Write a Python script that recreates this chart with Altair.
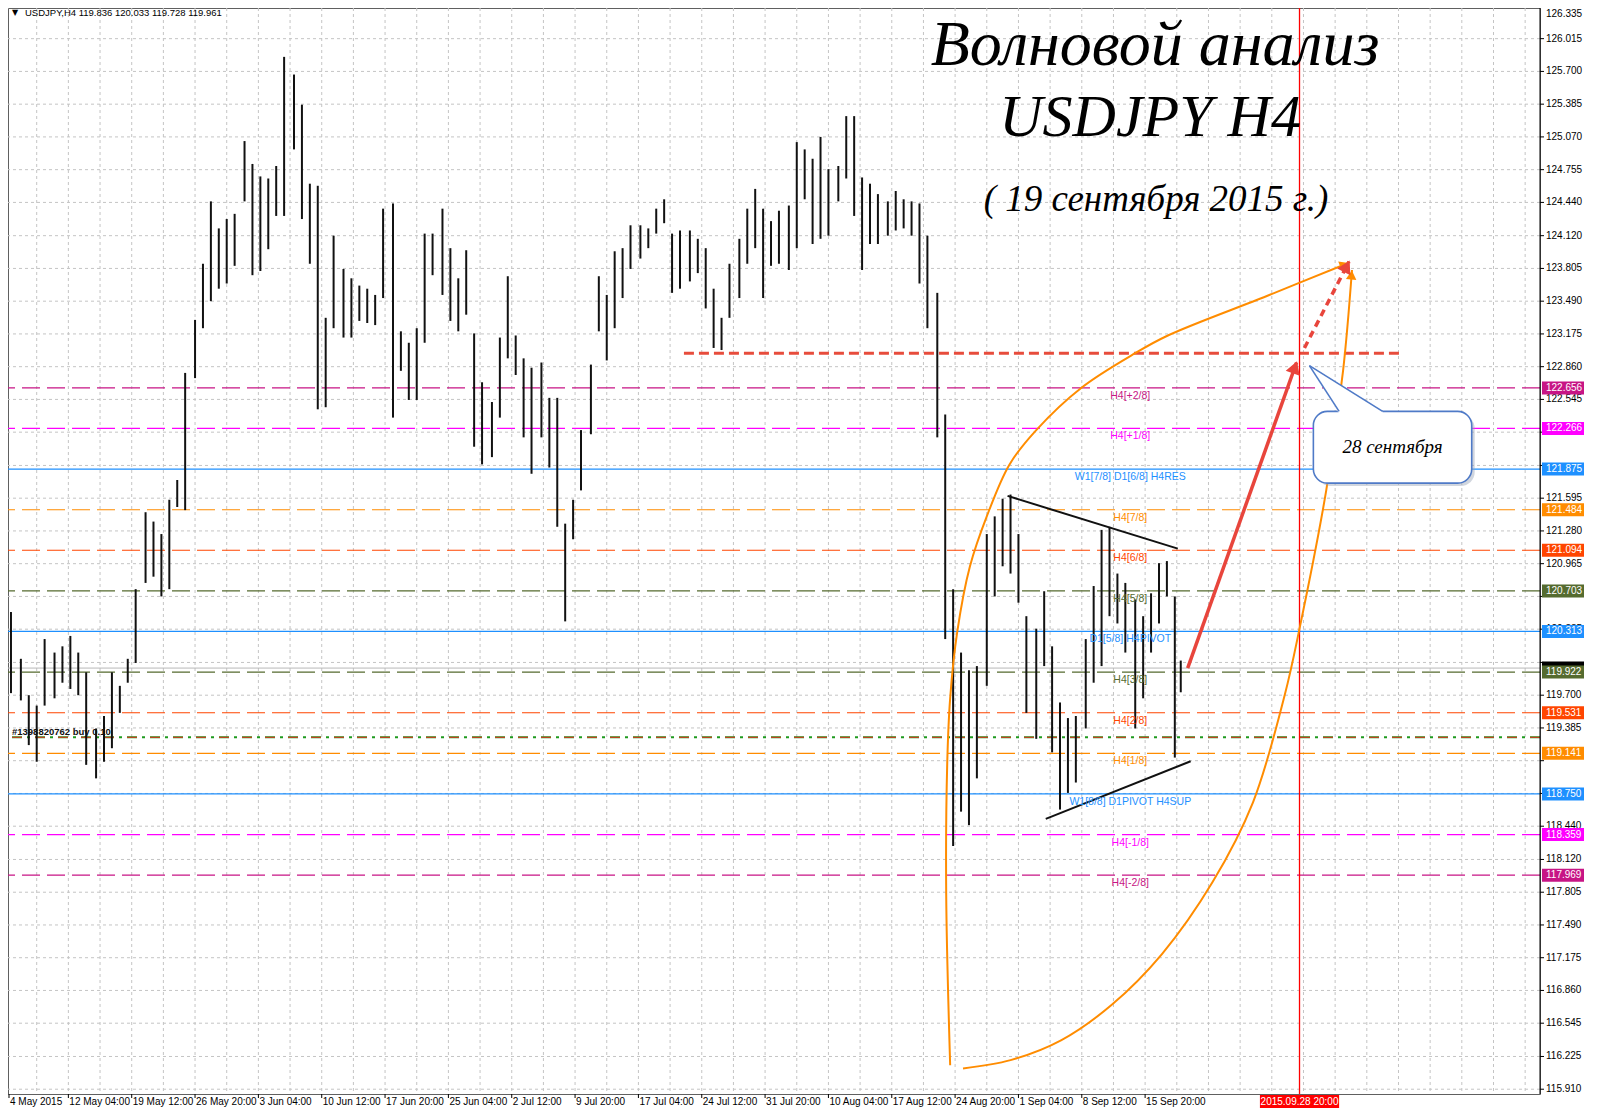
import math
import altair as alt
import pandas as pd

# ---------------- data ----------------
bar_idx = [3, 8, 12, 16, 20, 25, 29, 33, 37, 41, 46, 50, 54, 58, 62, 66, 71, 75, 79, 83,
           87, 91, 96, 100, 104, 108, 112, 116, 121, 125, 129, 133, 137, 141, 146, 150, 154, 158, 162, 166,
           171, 175, 179, 183, 187, 191, 196, 200, 204, 208, 212, 216, 221, 225, 229, 233, 237, 241, 246, 250,
           254, 258, 262, 266, 271, 275, 279, 283, 287, 291, 296, 300, 304, 308, 312, 316, 321, 325, 329, 333,
           337, 341, 346, 350, 354, 358, 362, 366, 371, 375, 379, 383, 387, 391, 396, 400, 404, 408, 412, 416,
           421, 425, 429, 433, 437, 441, 446, 450, 454, 458, 462, 466, 471, 475, 479, 483, 487, 491, 496, 500,
           504, 508, 512, 516, 521, 525, 529, 533, 537, 541, 546, 550, 554, 558, 562, 566, 571, 575, 579, 583,
           587, 591, 594]
bar_high = [120.50, 120.05, 119.70, 119.60, 120.24, 120.11, 120.17, 120.27, 120.11, 119.92, 119.38, 119.50, 119.92, 119.79, 120.05, 120.72, 121.46, 121.37, 121.25, 121.58,
            121.77, 122.80, 123.31, 123.85, 124.45, 124.19, 124.28, 124.33, 125.03, 124.81, 124.69, 124.67, 124.79, 125.84, 125.67, 125.38, 124.62, 124.60, 123.33, 124.12,
            123.80, 123.71, 123.64, 123.61, 123.55, 124.38, 124.43, 123.20, 123.09, 123.23, 124.14, 124.14, 124.38, 124.00, 123.71, 123.98, 123.18, 122.71, 122.52, 123.14,
            123.73, 123.16, 122.94, 122.85, 122.90, 122.56, 122.56, 121.35, 121.58, 122.25, 122.88, 123.73, 123.55, 123.97, 124.00, 124.22, 124.22, 124.19, 124.38, 124.47,
            124.14, 124.17, 124.17, 124.09, 124.00, 123.61, 123.33, 123.85, 124.09, 124.38, 124.57, 124.38, 124.26, 124.36, 124.41, 125.02, 124.95, 124.86, 125.07, 124.76,
            124.79, 125.27, 125.27, 124.68, 124.62, 124.52, 124.45, 124.55, 124.47, 124.45, 124.43, 124.12, 123.57, 122.40, 120.72, 120.11, 119.94, 119.98, 121.25, 121.42,
            121.59, 121.63, 121.25, 120.46, 120.34, 120.70, 120.17, 119.63, 119.48, 119.50, 120.24, 120.75, 121.29, 121.32, 120.87, 120.78, 120.62, 120.46, 120.68, 120.97,
            120.99, 120.65, 120.033]
bar_low = [119.72, 119.65, 119.22, 119.06, 119.60, 119.67, 119.82, 119.76, 119.70, 119.03, 118.90, 119.06, 119.19, 119.53, 119.82, 120.01, 120.78, 120.84, 120.65, 120.72,
           121.51, 121.48, 122.75, 123.23, 123.49, 123.61, 123.66, 123.83, 124.45, 123.74, 123.78, 123.99, 124.31, 124.31, 124.95, 124.28, 123.85, 122.45, 122.47, 123.23,
           123.14, 123.14, 123.30, 123.28, 123.26, 123.52, 122.37, 122.82, 122.54, 122.54, 123.09, 123.74, 123.55, 123.30, 123.20, 123.36, 122.09, 121.92, 121.99, 122.37,
           122.94, 122.78, 122.18, 121.83, 122.18, 121.89, 121.32, 120.41, 121.20, 121.67, 122.21, 123.20, 122.92, 123.23, 123.52, 123.80, 123.90, 124.00, 124.14, 124.24,
           123.57, 123.61, 123.68, 123.76, 123.42, 123.04, 123.02, 123.33, 123.52, 123.85, 124.00, 123.52, 123.83, 123.85, 123.79, 124.00, 124.47, 124.04, 124.09, 124.12,
           124.45, 124.67, 124.31, 123.79, 124.04, 124.04, 124.12, 124.17, 124.19, 124.12, 123.66, 123.23, 122.18, 120.24, 118.25, 118.58, 118.45, 118.90, 119.79, 120.65,
           120.94, 120.87, 120.59, 119.53, 119.28, 119.98, 119.15, 118.60, 118.76, 118.86, 119.38, 119.82, 119.98, 120.46, 120.39, 120.11, 119.38, 119.67, 120.11, 120.39,
           120.65, 119.10, 119.728]

# axis labels that are not covered by the coloured price boxes
top_tick = 126.335
tick_prices = [126.015, 125.700, 125.385, 125.070, 124.755, 124.440, 124.120, 123.805, 123.490,
               123.175, 122.860, 122.545, 121.595, 121.280, 120.965, 120.335,
               119.700, 119.385, 118.440, 118.120, 117.805, 117.490, 117.175,
               116.860, 116.545, 116.225, 115.910]
# grid rows (every axis step, including the covered ones)
grid_prices = [126.015, 125.700, 125.385, 125.070, 124.755, 124.440, 124.120, 123.805, 123.490,
               123.175, 122.860, 122.545, 122.230, 121.910, 121.595, 121.280, 120.965, 120.650, 120.335,
               120.015, 119.700, 119.385, 119.070, 118.755, 118.440, 118.120, 117.805, 117.490, 117.175,
               116.860, 116.545, 116.225, 115.910]

date_labels = ["4 May 2015", "12 May 04:00", "19 May 12:00", "26 May 20:00", "3 Jun 04:00", "10 Jun 12:00",
               "17 Jun 20:00", "25 Jun 04:00", "2 Jul 12:00", "9 Jul 20:00", "17 Jul 04:00", "24 Jul 12:00",
               "31 Jul 20:00", "10 Aug 04:00", "17 Aug 12:00", "24 Aug 20:00", "1 Sep 04:00", "8 Sep 12:00",
               "15 Sep 20:00"]
date_idx = [2, 32, 64, 96, 128, 160, 192, 224, 256, 288, 320, 352, 384, 416, 448, 480, 512, 544, 576]
grid_idx = [16 * k for k in range(1, 49)]

mm_price = [122.656, 122.266, 121.875, 121.484, 121.094, 120.703, 120.313, 119.922, 119.531, 119.141, 118.750, 118.359, 117.969]
mm_label = ["H4[+2/8]", "H4[+1/8]", "W1[7/8] D1[6/8] H4RES", "H4[7/8]", "H4[6/8]", "H4[5/8]", "D1[5/8] H4PIVOT",
            "H4[3/8]", "H4[2/8]", "H4[1/8]", "W1[8/8] D1PIVOT H4SUP", "H4[-1/8]", "H4[-2/8]"]
mm_color = ["#c71585", "#ff00ff", "#1e90ff", "#ff8c00", "#ff4500", "#556b2f", "#1e90ff", "#556b2f",
            "#ff4500", "#ff8c00", "#1e90ff", "#ff00ff", "#c71585"]
mm_style = ["dash", "dash", "solid", "dash", "dash", "dash", "solid", "dash", "dash", "dash", "solid", "dash", "dash"]
mm_label_idx = 568.5

bid_price = 119.961
order_price = 119.295
order_text = "#1398820762 buy 0.10"
target_price = 122.99
target_from, target_to = 343, 706
future_idx = 654
future_label = "2015.09.28 20:00"

tri_upper = [(506.5, 121.617), (592.5, 121.11)]
tri_lower = [(525.8, 118.511), (599.0, 119.065)]

curve1_i = [477.5, 475.5, 476, 477.5, 481, 487.5, 496, 507.5, 521, 544, 571, 587.5, 637.5, 679]
curve1_p = [116.14, 117.785, 119.03, 119.67, 120.30, 120.94, 121.42, 121.92, 122.25, 122.66, 122.99, 123.16, 123.54, 123.86]
curve2_i = [484, 508, 533.5, 559, 584.5, 610, 630.5, 646.5, 654, 667.5, 676, 680.5]
curve2_p = [116.11, 116.19, 116.38, 116.72, 117.21, 117.90, 118.67, 119.70, 120.34, 121.67, 122.82, 123.79]

arrow_solid = [(597.5, 119.96), (652.5, 122.90)]
arrow_dashed = [(656.5, 123.04), (679.0, 123.87)]

callout_box = (661, 741, 121.74, 122.43)
callout_tail = [(659, 122.87), (674, 122.43), (696, 122.43)]
callout_text = "28 сентября"

title1 = "Волновой анализ"
title2 = "USDJPY H4"
title3 = "( 19 сентября 2015 г.)"
header = "USDJPY,H4  119.836 120.033 119.728 119.961"

# ---------------- layout ----------------
W, H = 1532, 1086
XD = [1.5, 775.5]
YD = [115.864, 126.310]
sx = W / (XD[1] - XD[0])
sy = H / (YD[1] - YD[0])
FONT = "Liberation Sans"

XS = alt.Scale(domain=XD, nice=False, zero=False)
YS = alt.Scale(domain=YD, nice=False, zero=False)


def X(f):
    return alt.X(f, type="quantitative", scale=XS, axis=None)


def Y(f):
    return alt.Y(f, type="quantitative", scale=YS, axis=None)


layers = []

# grid
layers.append(alt.Chart(pd.DataFrame({"p": grid_prices})).mark_rule(
    color="#c4c4c4", strokeDash=[3, 3], strokeWidth=1).encode(y=Y("p")))
layers.append(alt.Chart(pd.DataFrame({"i": grid_idx})).mark_rule(
    color="#c4c4c4", strokeDash=[3, 3], strokeWidth=1).encode(x=X("i")))

# Murrey lines
mm = pd.DataFrame({"p": mm_price, "t": mm_label, "c": mm_color, "d": mm_style,
                   "li": [mm_label_idx] * len(mm_price)})
layers.append(alt.Chart(mm).mark_rule(strokeWidth=1.2).encode(
    y=Y("p"), color=alt.Color("c:N", scale=None),
    strokeDash=alt.StrokeDash("d:N", scale=alt.Scale(domain=["dash", "solid"], range=[[18, 7], [1, 0]]), legend=None)))

# bid line, order line
layers.append(alt.Chart(pd.DataFrame({"p": [bid_price]})).mark_rule(color="#b8b8b8", strokeWidth=1).encode(y=Y("p")))
layers.append(alt.Chart(pd.DataFrame({"p": [order_price]})).mark_rule(
    color="#1f9a1f", strokeWidth=2, strokeDash=[10, 5, 3, 5]).encode(y=Y("p")))
layers.append(alt.Chart(pd.DataFrame({"p": [order_price]})).mark_rule(
    color="#e03020", strokeWidth=1, strokeDash=[10, 13]).encode(y=Y("p")))

# target dashed red line
layers.append(alt.Chart(pd.DataFrame({"a": [target_from], "b": [target_to], "p": [target_price]})).mark_rule(
    color="#e74c3c", strokeWidth=3, strokeDash=[10, 5]).encode(x=X("a"), x2="b", y=Y("p")))

# future vertical red line
layers.append(alt.Chart(pd.DataFrame({"i": [future_idx]})).mark_rule(color="#ff0000", strokeWidth=1.3).encode(x=X("i")))

# price bars
bars = pd.DataFrame({"i": bar_idx, "hi": bar_high, "lo": bar_low})
layers.append(alt.Chart(bars).mark_rule(color="#111111", strokeWidth=2).encode(x=X("i"), y=Y("hi"), y2="lo"))

# triangle lines
tri = pd.DataFrame({"a": [tri_upper[0][0], tri_lower[0][0]], "b": [tri_upper[1][0], tri_lower[1][0]],
                    "p1": [tri_upper[0][1], tri_lower[0][1]], "p2": [tri_upper[1][1], tri_lower[1][1]]})
layers.append(alt.Chart(tri).mark_rule(color="#111111", strokeWidth=2).encode(x=X("a"), x2="b", y=Y("p1"), y2="p2"))

# orange curves
c1 = pd.DataFrame({"i": curve1_i, "p": curve1_p, "o": list(range(len(curve1_i)))})
c2 = pd.DataFrame({"i": curve2_i, "p": curve2_p, "o": list(range(len(curve2_i)))})
for c in (c1, c2):
    layers.append(alt.Chart(c).mark_line(color="#ff8c00", strokeWidth=2, interpolate="catmull-rom").encode(
        x=X("i"), y=Y("p"), order="o:Q"))

# red arrows
layers.append(alt.Chart(pd.DataFrame({"i": [a[0] for a in arrow_solid], "p": [a[1] for a in arrow_solid]})).mark_line(
    color="#e8453c", strokeWidth=3.5).encode(x=X("i"), y=Y("p")))
layers.append(alt.Chart(pd.DataFrame({"i": [a[0] for a in arrow_dashed], "p": [a[1] for a in arrow_dashed]})).mark_line(
    color="#e8453c", strokeWidth=3.5, strokeDash=[7, 5]).encode(x=X("i"), y=Y("p")))


def head(p0, p1, back=5):
    dx = (p1[0] - p0[0]) * sx
    dy = (p1[1] - p0[1]) * sy
    ln = math.hypot(dx, dy)
    ang = math.degrees(math.atan2(dx, dy)) % 360
    return p1[0] - dx / ln * back / sx, p1[1] - dy / ln * back / sy, ang


heads = []
for (p0, p1, col, size) in [((curve1_i[-2], curve1_p[-2]), (curve1_i[-1], curve1_p[-1]), "#ff8c00", 110),
                            ((curve2_i[-2], curve2_p[-2]), (curve2_i[-1], curve2_p[-1]), "#ff8c00", 110),
                            (arrow_solid[0], arrow_solid[1], "#e8453c", 220),
                            (arrow_dashed[0], arrow_dashed[1], "#e8453c", 220)]:
    ci, cp, a = head(p0, p1)
    heads.append({"i": ci, "p": cp, "a": a, "c": col, "s": size})
layers.append(alt.Chart(pd.DataFrame(heads)).mark_point(shape="triangle-up", filled=True, opacity=1).encode(
    x=X("i"), y=Y("p"), angle=alt.Angle("a:Q", scale=None), color=alt.Color("c:N", scale=None),
    size=alt.Size("s:Q", scale=None)))

# Murrey labels
layers.append(alt.Chart(mm).mark_text(font=FONT, fontSize=10.5, dy=8, align="center", baseline="middle").encode(
    x=X("li"), y=Y("p"), text="t:N", color=alt.Color("c:N", scale=None)))

# order label
layers.append(alt.Chart(pd.DataFrame({"i": [3.5], "p": [order_price + 0.055], "t": [order_text]})).mark_text(
    font=FONT, fontSize=9.5, fontWeight="bold", align="left", baseline="middle", color="#111").encode(
    x=X("i"), y=Y("p"), text="t:N"))

# titles
tt = pd.DataFrame({"i": [581, 578.5, 581.5], "p": [125.76, 125.077, 124.36], "t": [title1, title2, title3],
                   "s": [64, 60, 37]})
layers.append(alt.Chart(tt).mark_text(font="Liberation Serif", fontStyle="italic", align="center",
                                      baseline="alphabetic", color="#000").encode(
    x=X("i"), y=Y("p"), text="t:N", size=alt.Size("s:Q", scale=None)))

# callout
x1, x2, pl, ph = callout_box
shadow_dx = 3 / sx
shadow_dy = 3 / sy
layers.append(alt.Chart(pd.DataFrame({"a": [x1 + shadow_dx], "b": [x2 + shadow_dx], "lo": [pl - shadow_dy], "hi": [ph - shadow_dy]})).mark_rect(
    cornerRadius=14, color="#9aa5b5", opacity=0.45).encode(x=X("a"), x2="b", y=Y("lo"), y2="hi"))
layers.append(alt.Chart(pd.DataFrame({"a": [x1], "b": [x2], "lo": [pl], "hi": [ph]})).mark_rect(
    cornerRadius=14, fill="#ffffff", stroke="#4f7ac7", strokeWidth=1.6).encode(x=X("a"), x2="b", y=Y("lo"), y2="hi"))
A, B, C = callout_tail
tmid = (B[0] - A[0]) / (C[0] - A[0])
pmid = A[1] + tmid * (C[1] - A[1])
layers.append(alt.Chart(pd.DataFrame({"i": [A[0], B[0], C[0]], "p": [A[1], pmid, C[1]],
                                      "p2": [A[1], B[1] - 0.02, C[1] - 0.02]})).mark_area(
    color="#ffffff", opacity=1).encode(x=X("i"), y=Y("p"), y2="p2"))
layers.append(alt.Chart(pd.DataFrame({"a": [A[0], A[0]], "b": [B[0], C[0]], "p1": [A[1], A[1]], "p2": [B[1], C[1]]})).mark_rule(
    color="#4f7ac7", strokeWidth=1.6).encode(x=X("a"), x2="b", y=Y("p1"), y2="p2"))
layers.append(alt.Chart(pd.DataFrame({"i": [(x1 + x2) / 2], "p": [(pl + ph) / 2], "t": [callout_text]})).mark_text(
    font="Liberation Serif", fontStyle="italic", fontSize=19, align="center", baseline="middle", color="#000").encode(
    x=X("i"), y=Y("p"), text="t:N"))

# header
layers.append(alt.Chart(pd.DataFrame({"t": ["\u25bc"]})).mark_text(
    font="DejaVu Sans", fontSize=8, align="left", baseline="middle", color="#000").encode(
    x=alt.value(4), y=alt.value(5), text="t:N"))
layers.append(alt.Chart(pd.DataFrame({"t": [header]})).mark_text(
    font=FONT, fontSize=9.5, align="left", baseline="middle", color="#000").encode(
    x=alt.value(17), y=alt.value(5), text="t:N"))

# right axis
layers.append(alt.Chart(pd.DataFrame({"z": [0]})).mark_rule(color="#000", strokeWidth=1).encode(
    x=alt.value(W), y=alt.value(-8), y2=alt.value(H)))
tick_df = pd.DataFrame({"p": tick_prices, "t": [f"{v:.3f}" for v in tick_prices]})
layers.append(alt.Chart(pd.DataFrame({"p": grid_prices})).mark_rule(color="#000").encode(
    x=alt.value(W), x2=alt.value(W + 4), y=Y("p")))
layers.append(alt.Chart(tick_df).mark_text(font=FONT, fontSize=10, align="left", baseline="middle", color="#000").encode(
    x=alt.value(W + 6), y=Y("p"), text="t:N"))
# top label sits at the very edge: nudge it down so it stays readable
layers.append(alt.Chart(pd.DataFrame({"p": [top_tick], "t": [f"{top_tick:.3f}"]})).mark_text(
    font=FONT, fontSize=10, align="left", baseline="middle", color="#000", dy=9).encode(
    x=alt.value(W + 6), y=Y("p"), text="t:N"))

half = 6.5 / sy
# current bid box (mostly hidden behind the 119.922 box)
layers.append(alt.Chart(pd.DataFrame({"lo": [bid_price - half], "hi": [bid_price + half]})).mark_rect(color="#000").encode(
    x=alt.value(W + 2), x2=alt.value(W + 44), y=Y("lo"), y2="hi"))
boxes = pd.DataFrame({"lo": [p - half for p in mm_price], "hi": [p + half for p in mm_price], "p": mm_price,
                      "c": mm_color, "t": [f"{v:.3f}" for v in mm_price]})
layers.append(alt.Chart(boxes).mark_rect().encode(
    x=alt.value(W + 2), x2=alt.value(W + 44), y=Y("lo"), y2="hi", color=alt.Color("c:N", scale=None)))
layers.append(alt.Chart(boxes).mark_text(font=FONT, fontSize=10, align="left", baseline="middle", color="#fff").encode(
    x=alt.value(W + 6), y=Y("p"), text="t:N"))

# bottom axis
dates = pd.DataFrame({"i": date_idx, "t": date_labels})
layers.append(alt.Chart(dates).mark_rule(color="#000").encode(x=X("i"), y=alt.value(H), y2=alt.value(H + 4)))
layers.append(alt.Chart(dates).mark_text(font=FONT, fontSize=10, align="left", baseline="middle", dx=1, color="#000").encode(
    x=X("i"), y=alt.value(H + 8), text="t:N"))
layers.append(alt.Chart(pd.DataFrame({"a": [future_idx - 20], "b": [future_idx + 20]})).mark_rect(color="#ff0000").encode(
    x=X("a"), x2="b", y=alt.value(H + 1), y2=alt.value(H + 14)))
layers.append(alt.Chart(pd.DataFrame({"i": [future_idx], "t": [future_label]})).mark_text(
    font=FONT, fontSize=10, align="center", baseline="middle", color="#fff").encode(
    x=X("i"), y=alt.value(H + 8), text="t:N"))

chart = alt.layer(*layers).properties(
    width=W, height=H,
    padding={"left": 0, "top": 0, "right": 46, "bottom": 14},
    autosize=alt.AutoSizeParams(type="none"),
    background="#ffffff",
).configure_view(stroke="#606060", strokeWidth=1)

chart.save("out.html", embed_options={"renderer": "svg", "actions": False})
